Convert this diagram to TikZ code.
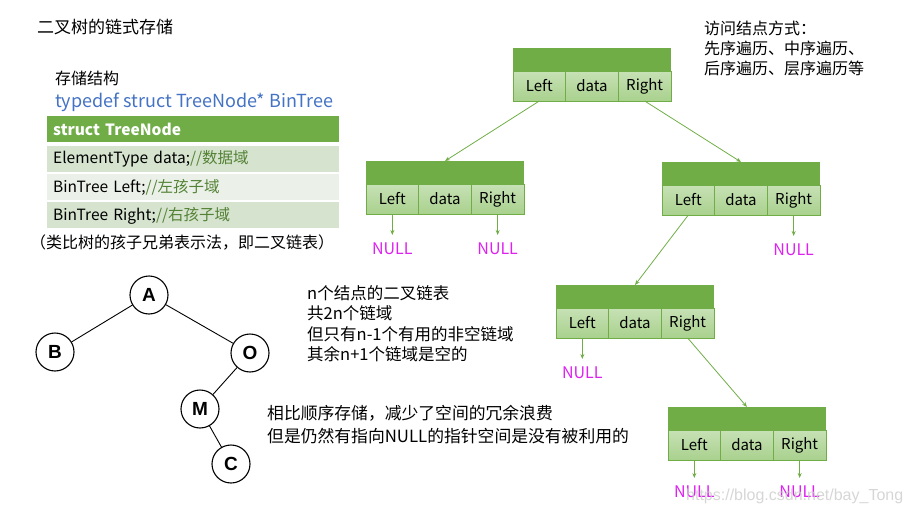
\documentclass[tikz,border=0pt]{standalone}
\usepackage{fontspec}
\setmainfont{Noto Sans CJK SC}
\newfontfamily\treefont{Liberation Sans}
\usetikzlibrary{positioning,arrows.meta}
\definecolor{dgreen}{HTML}{70AD47}
\definecolor{cellgreen}{HTML}{A9D18E}
\definecolor{rowdark}{HTML}{D5E3CF}
\definecolor{rowlight}{HTML}{EBF1E9}
\definecolor{cmtgreen}{HTML}{548235}
\definecolor{codeblue}{HTML}{4472C4}
\definecolor{nullpink}{HTML}{DD22F0}

\tikzset{
  bar/.style={fill=dgreen, minimum width=158pt, minimum height=23pt, inner sep=0pt, outer sep=0pt},
  cell/.style={draw=dgreen, line width=1pt, top color=cellgreen!65!white, bottom color=cellgreen,
    minimum width=52.67pt, minimum height=30pt, inner sep=0pt, outer sep=0pt,
    font=\fontsize{15}{18}\selectfont},
  null/.style={text=nullpink, inner sep=2pt, font=\fontsize{16}{18}\selectfont},
  link/.style={draw=dgreen, line width=0.8pt, -{Stealth[length=5pt,width=4pt]}},
  tnode/.style={circle, draw, line width=1.1pt, minimum size=38pt, inner sep=0pt,
    font=\treefont\bfseries\fontsize{19}{22}\selectfont},
  edge/.style={line width=0.9pt},
  row/.style={text width=280pt, inner xsep=6pt, inner ysep=0pt, minimum height=26pt,
    align=left, font=\fontsize{15.5}{18}\selectfont},
  txt/.style={inner sep=0pt, font=\fontsize{16}{20}\selectfont}
}

% one node of the linked list: name, top-left x, top-left y
\newcommand{\lnode}[3]{%
  \node[bar, anchor=north west] (#1) at (#2,#3) {};
  \node[cell, anchor=north west] (#1-l) at (#1.south west) {Left};
  \node[cell, right=0pt of #1-l] (#1-d) {data};
  \node[cell, right=0pt of #1-d] (#1-r) {Right};
}

\begin{document}
\begin{tikzpicture}[x=1pt, y=-1pt]
\useasboundingbox (0,0) rectangle (911,514);

% left column
\node[txt, anchor=west, font=\fontsize{17}{20}\selectfont] (title) at (37,27) {二叉树的链式存储};
\node[txt, anchor=west] (store) at (55,78) {存储结构};
\node[txt, anchor=west, text=codeblue, font=\fontsize{18}{20}\selectfont] (tdef) at (55,102) {typedef struct TreeNode* BinTree};

\node[row, fill=dgreen, text=white, anchor=north west, font=\bfseries\fontsize{15.5}{18}\selectfont] (hdr) at (47,116) {struct TreeNode};
\node[row, fill=rowdark, below=3pt of hdr] (r1) {ElementType data;\textcolor{cmtgreen}{//数据域}};
\node[row, fill=rowlight, below=2pt of r1] (r2) {BinTree Left;\textcolor{cmtgreen}{//左孩子域}};
\node[row, fill=rowdark, below=2pt of r2] (r3) {BinTree Right;\textcolor{cmtgreen}{//右孩子域}};
\node[txt, anchor=west] (note) at (30,243) {（类比树的孩子兄弟表示法，即二叉链表）};

% the tree
\node[tnode] (A) at (149,295) {A};
\node[tnode] (B) at (55,352) {B};
\node[tnode] (O) at (250,353) {O};
\node[tnode] (M) at (200,409) {M};
\node[tnode] (C) at (231,464) {C};
\draw[edge] (A) -- (B);
\draw[edge] (A) -- (O);
\draw[edge] (O) -- (M);
\draw[edge] (M) -- (C);

% notes
\node[txt, anchor=north west, align=left, font=\fontsize{16.5}{20.5}\selectfont] (count) at (307,285)
  {n个结点的二叉链表\\共2n个链域\\但只有n-1个有用的非空链域\\其余n+1个链域是空的};
\node[txt, anchor=north west, align=left, font=\fontsize{16.8}{23}\selectfont] (cmp) at (267,405)
  {相比顺序存储，减少了空间的冗余浪费\\但是仍然有指向NULL的指针空间是没有被利用的};
\node[txt, anchor=north west, align=left, font=\fontsize{16}{20}\selectfont] (visit) at (704,21)
  {访问结点方式：\\先序遍历、中序遍历、\\后序遍历、层序遍历等};

% linked list
\lnode{la}{513}{48}
\lnode{lb}{366}{161}
\lnode{lo}{662}{162}
\lnode{lm}{556}{285}
\lnode{lc}{668}{407}

\draw[link] (la-l.south) -- (lb.north);
\draw[link] (la-r.south) -- (lo.north);
\draw[link] (lo-l.south) -- (lm.north);
\draw[link] (lm-r.south) -- (lc.north);

\node[null, below=27pt of lb-l] (lb-ln) {NULL};
\node[null, below=27pt of lb-r] (lb-rn) {NULL};
\node[null, below=27pt of lo-r] (lo-rn) {NULL};
\node[null, below=27pt of lm-l] (lm-ln) {NULL};
\node[null, below=24pt of lc-l] (lc-ln) {NULL};
\node[null, below=24pt of lc-r] (lc-rn) {NULL};
\draw[link, shorten >=6pt] (lb-l) -- (lb-ln);
\draw[link, shorten >=6pt] (lb-r) -- (lb-rn);
\draw[link, shorten >=6pt] (lo-r) -- (lo-rn);
\draw[link, shorten >=6pt] (lm-l) -- (lm-ln);
\draw[link, shorten >=6pt] (lc-l) -- (lc-ln);
\draw[link, shorten >=6pt] (lc-r) -- (lc-rn);

\node[anchor=west, inner sep=0pt, text=gray!40, opacity=0.8, font=\treefont\fontsize{16}{18}\selectfont] (mark) at (686,496) {https://blog.csdn.net/bay\_Tong};
\end{tikzpicture}
\end{document}
